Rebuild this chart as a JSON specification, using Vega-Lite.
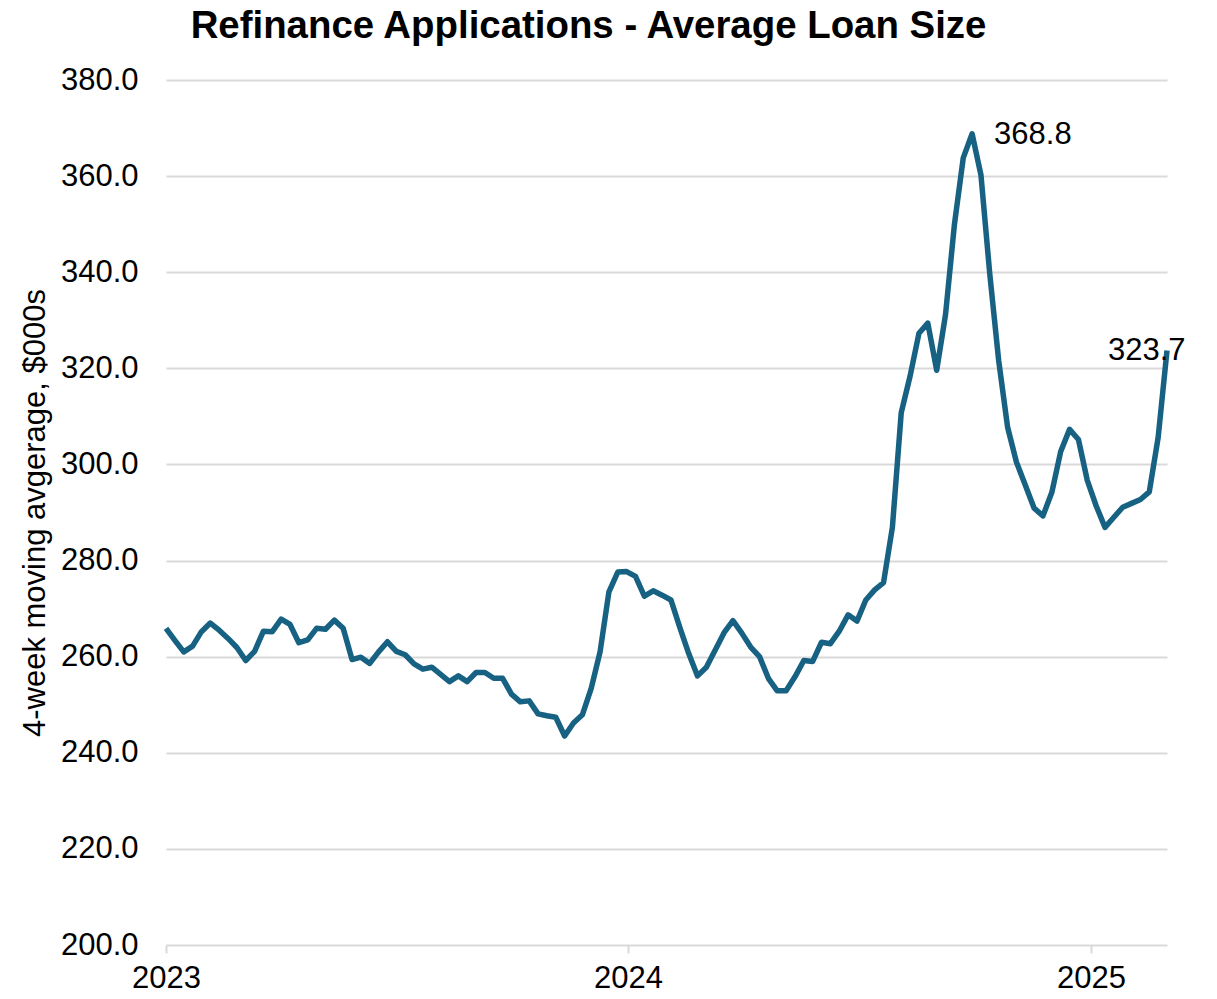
{
  "$schema": "https://vega.github.io/schema/vega-lite/v6.json",
  "autosize": "none",
  "width": 1001,
  "height": 865,
  "padding": {"left": 166, "top": 80, "right": 50, "bottom": 54},
  "background": "white",
  "title": {
    "text": "Refinance Applications - Average Loan Size",
    "font": "Liberation Sans",
    "fontSize": 38.4,
    "fontWeight": "bold",
    "color": "#000000",
    "anchor": "middle",
    "dx": -78,
    "offset": 18
  },
  "config": {
    "view": {"stroke": null},
    "font": "Liberation Sans",
    "axis": {
      "labelFont": "Liberation Sans",
      "titleFont": "Liberation Sans",
      "labelColor": "#000000",
      "titleColor": "#000000",
      "labelFontSize": 31,
      "titleFontSize": 31,
      "titleFontWeight": "normal"
    }
  },
  "data": {
    "values": [
      {"date": "2023-01-01", "value": 265.9},
      {"date": "2023-01-08", "value": 263.4},
      {"date": "2023-01-15", "value": 261.0},
      {"date": "2023-01-22", "value": 262.2},
      {"date": "2023-01-29", "value": 265.2},
      {"date": "2023-02-05", "value": 267.0},
      {"date": "2023-02-12", "value": 265.5},
      {"date": "2023-02-19", "value": 263.8},
      {"date": "2023-02-26", "value": 261.9},
      {"date": "2023-03-05", "value": 259.2},
      {"date": "2023-03-12", "value": 261.1},
      {"date": "2023-03-19", "value": 265.3},
      {"date": "2023-03-26", "value": 265.2},
      {"date": "2023-04-02", "value": 267.8},
      {"date": "2023-04-09", "value": 266.7},
      {"date": "2023-04-16", "value": 262.9},
      {"date": "2023-04-23", "value": 263.5},
      {"date": "2023-04-30", "value": 265.9},
      {"date": "2023-05-07", "value": 265.7},
      {"date": "2023-05-14", "value": 267.6},
      {"date": "2023-05-21", "value": 265.9},
      {"date": "2023-05-28", "value": 259.4},
      {"date": "2023-06-04", "value": 259.9},
      {"date": "2023-06-11", "value": 258.6},
      {"date": "2023-06-18", "value": 261.0},
      {"date": "2023-06-25", "value": 263.1},
      {"date": "2023-07-02", "value": 261.1},
      {"date": "2023-07-09", "value": 260.4},
      {"date": "2023-07-16", "value": 258.5},
      {"date": "2023-07-23", "value": 257.4},
      {"date": "2023-07-30", "value": 257.8},
      {"date": "2023-08-06", "value": 256.3},
      {"date": "2023-08-13", "value": 254.8},
      {"date": "2023-08-20", "value": 256.0},
      {"date": "2023-08-27", "value": 254.8},
      {"date": "2023-09-03", "value": 256.7},
      {"date": "2023-09-10", "value": 256.7},
      {"date": "2023-09-17", "value": 255.5},
      {"date": "2023-09-24", "value": 255.5},
      {"date": "2023-10-01", "value": 252.2},
      {"date": "2023-10-08", "value": 250.6},
      {"date": "2023-10-15", "value": 250.8},
      {"date": "2023-10-22", "value": 248.1},
      {"date": "2023-10-29", "value": 247.7},
      {"date": "2023-11-05", "value": 247.4},
      {"date": "2023-11-12", "value": 243.5},
      {"date": "2023-11-19", "value": 246.2},
      {"date": "2023-11-26", "value": 247.9},
      {"date": "2023-12-03", "value": 253.4},
      {"date": "2023-12-10", "value": 261.0},
      {"date": "2023-12-17", "value": 273.5},
      {"date": "2023-12-24", "value": 277.6},
      {"date": "2023-12-31", "value": 277.7},
      {"date": "2024-01-07", "value": 276.7},
      {"date": "2024-01-14", "value": 272.6},
      {"date": "2024-01-21", "value": 273.7},
      {"date": "2024-01-28", "value": 272.8},
      {"date": "2024-02-04", "value": 271.8},
      {"date": "2024-02-11", "value": 266.1},
      {"date": "2024-02-18", "value": 260.7},
      {"date": "2024-02-25", "value": 256.0},
      {"date": "2024-03-03", "value": 257.8},
      {"date": "2024-03-10", "value": 261.4},
      {"date": "2024-03-17", "value": 265.0},
      {"date": "2024-03-24", "value": 267.5},
      {"date": "2024-03-31", "value": 264.9},
      {"date": "2024-04-07", "value": 262.0},
      {"date": "2024-04-14", "value": 260.0},
      {"date": "2024-04-21", "value": 255.5},
      {"date": "2024-04-28", "value": 252.9},
      {"date": "2024-05-05", "value": 252.9},
      {"date": "2024-05-12", "value": 255.8},
      {"date": "2024-05-19", "value": 259.2},
      {"date": "2024-05-26", "value": 259.0},
      {"date": "2024-06-02", "value": 263.0},
      {"date": "2024-06-09", "value": 262.7},
      {"date": "2024-06-16", "value": 265.3},
      {"date": "2024-06-23", "value": 268.7},
      {"date": "2024-06-30", "value": 267.4},
      {"date": "2024-07-07", "value": 271.8},
      {"date": "2024-07-14", "value": 273.9},
      {"date": "2024-07-21", "value": 275.4},
      {"date": "2024-07-28", "value": 286.9},
      {"date": "2024-08-04", "value": 310.8},
      {"date": "2024-08-11", "value": 318.4},
      {"date": "2024-08-18", "value": 327.3},
      {"date": "2024-08-25", "value": 329.4},
      {"date": "2024-09-01", "value": 319.6},
      {"date": "2024-09-08", "value": 331.2},
      {"date": "2024-09-15", "value": 349.9},
      {"date": "2024-09-22", "value": 363.8},
      {"date": "2024-09-29", "value": 368.8},
      {"date": "2024-10-06", "value": 360.2},
      {"date": "2024-10-13", "value": 339.5},
      {"date": "2024-10-20", "value": 321.6},
      {"date": "2024-10-27", "value": 307.8},
      {"date": "2024-11-03", "value": 300.5},
      {"date": "2024-11-10", "value": 295.7},
      {"date": "2024-11-17", "value": 290.9},
      {"date": "2024-11-24", "value": 289.3},
      {"date": "2024-12-01", "value": 294.2},
      {"date": "2024-12-08", "value": 302.7},
      {"date": "2024-12-15", "value": 307.3},
      {"date": "2024-12-22", "value": 305.2},
      {"date": "2024-12-29", "value": 296.7},
      {"date": "2025-01-05", "value": 291.4},
      {"date": "2025-01-12", "value": 286.9},
      {"date": "2025-01-19", "value": 289.0},
      {"date": "2025-01-26", "value": 291.1},
      {"date": "2025-02-02", "value": 291.9},
      {"date": "2025-02-09", "value": 292.7},
      {"date": "2025-02-16", "value": 294.3},
      {"date": "2025-02-23", "value": 305.6},
      {"date": "2025-03-02", "value": 323.7}
    ]
  },
  "encoding": {
    "x": {
      "field": "date",
      "type": "temporal",
      "scale": {
        "type": "utc",
        "domain": [
          {"year": 2023, "month": 1, "date": 1, "utc": true},
          {"year": 2025, "month": 3, "date": 2, "utc": true}
        ]
      },
      "axis": {
        "title": null,
        "values": [
          {"year": 2023, "month": 1, "date": 1, "utc": true},
          {"year": 2024, "month": 1, "date": 1, "utc": true},
          {"year": 2025, "month": 1, "date": 1, "utc": true}
        ],
        "format": "%Y",
        "grid": false,
        "domain": false,
        "ticks": true,
        "tickSize": 8,
        "tickWidth": 2,
        "tickColor": "#d9d9d9",
        "labelPadding": 10,
        "labelFlush": false,
        "labelOverlap": false
      }
    },
    "y": {
      "field": "value",
      "type": "quantitative",
      "scale": {"domain": [200, 380], "nice": false, "zero": false},
      "axis": {
        "title": "4-week moving avgerage, $000s",
        "titlePadding": 9,
        "values": [200, 220, 240, 260, 280, 300, 320, 340, 360, 380],
        "format": ".1f",
        "domain": false,
        "ticks": false,
        "labelPadding": 28,
        "grid": true,
        "gridColor": "#d9d9d9",
        "gridWidth": 2
      }
    }
  },
  "layer": [
    {
      "mark": {"type": "line", "color": "#176183", "strokeWidth": 5.5, "strokeJoin": "round", "strokeCap": "butt"}
    },
    {
      "transform": [{"filter": "datum.value == 368.8"}],
      "mark": {"type": "text", "align": "left", "baseline": "middle", "dx": 22, "dy": 1, "fontSize": 31, "font": "Liberation Sans", "color": "#000000"},
      "encoding": {"text": {"field": "value", "type": "quantitative", "format": ".1f"}}
    },
    {
      "transform": [{"filter": "datum.value == 323.7"}],
      "mark": {"type": "text", "align": "left", "baseline": "middle", "dx": -59, "fontSize": 31, "font": "Liberation Sans", "color": "#000000"},
      "encoding": {"text": {"field": "value", "type": "quantitative", "format": ".1f"}}
    }
  ]
}
